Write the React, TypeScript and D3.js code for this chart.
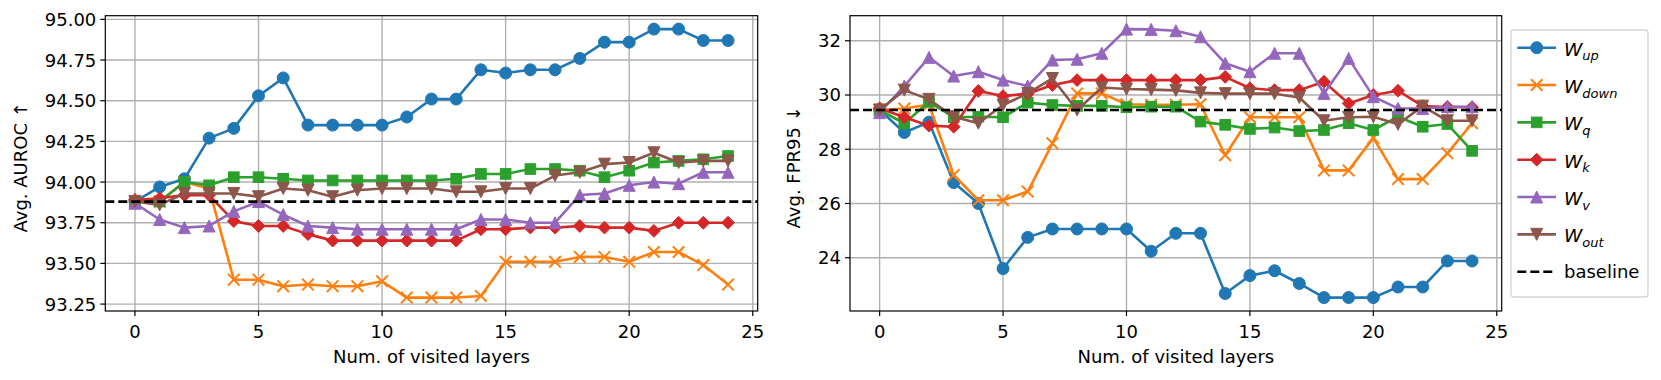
import React from "react";
import * as d3 from "d3";

const layers = [0,1,2,3,4,5,6,7,8,9,10,11,12,13,14,15,16,17,18,19,20,21,22,23,24];

const aurocUp = [93.88,93.97,94.02,94.27,94.33,94.53,94.64,94.35,94.35,94.35,94.35,94.40,94.51,94.51,94.69,94.67,94.69,94.69,94.76,94.86,94.86,94.94,94.94,94.87,94.87];
const aurocDown = [93.88,93.88,94.00,93.96,93.40,93.40,93.36,93.37,93.36,93.36,93.39,93.29,93.29,93.29,93.30,93.51,93.51,93.51,93.54,93.54,93.51,93.57,93.57,93.49,93.37];
const aurocQ = [93.88,93.88,94.00,93.98,94.03,94.03,94.02,94.01,94.01,94.01,94.01,94.01,94.01,94.02,94.05,94.05,94.08,94.08,94.07,94.03,94.07,94.12,94.13,94.14,94.16];
const aurocK = [93.89,93.90,93.92,93.92,93.76,93.73,93.73,93.68,93.64,93.64,93.64,93.64,93.64,93.64,93.71,93.71,93.72,93.72,93.73,93.72,93.72,93.70,93.75,93.75,93.75];
const aurocV = [93.87,93.77,93.72,93.73,93.82,93.88,93.80,93.73,93.72,93.71,93.71,93.71,93.71,93.71,93.77,93.77,93.75,93.75,93.92,93.93,93.98,94.00,93.99,94.06,94.06];
const aurocOut = [93.88,93.86,93.93,93.93,93.93,93.91,93.96,93.95,93.91,93.95,93.96,93.96,93.96,93.94,93.94,93.96,93.96,94.04,94.06,94.11,94.12,94.18,94.12,94.13,94.13];
const aurocBaseline = 93.88;

const fprUp = [29.45,28.62,29.0,26.77,26.0,23.6,24.75,25.06,25.06,25.06,25.06,24.24,24.9,24.9,22.68,23.34,23.52,23.05,22.53,22.53,22.53,22.92,22.92,23.88,23.88];
const fprDown = [29.45,29.5,29.65,27.05,26.12,26.12,26.44,28.22,30.06,30.06,29.66,29.64,29.64,29.66,27.78,29.18,29.18,29.18,27.22,27.22,28.42,26.9,26.9,27.85,28.96];
const fprQ = [29.45,28.95,29.75,29.18,29.2,29.18,29.72,29.63,29.6,29.6,29.55,29.57,29.57,29.02,28.9,28.75,28.8,28.67,28.71,28.96,28.71,29.2,28.83,28.93,27.94];
const fprK = [29.51,29.18,28.87,28.83,30.15,29.96,30.05,30.37,30.55,30.55,30.55,30.55,30.55,30.55,30.67,30.25,30.18,30.18,30.49,29.69,30.0,30.16,29.59,29.56,29.55];
const fprV = [29.35,30.33,31.39,30.7,30.86,30.55,30.33,31.29,31.32,31.54,32.43,32.42,32.37,32.15,31.17,30.86,31.54,31.54,30.06,31.35,29.94,29.51,29.5,29.57,29.57];
const fprOut = [29.45,30.18,29.84,29.2,28.96,29.63,30.06,30.61,29.45,30.28,30.22,30.2,30.17,30.08,30.05,30.05,30.05,29.91,29.05,29.18,29.2,28.92,29.59,29.05,29.05];
const fprBaseline = 29.45;

const seriesNames = ["up", "down", "q", "k", "v", "out"];
const seriesColors = ["#1f77b4", "#ff7f0e", "#2ca02c", "#d62728", "#9467bd", "#8c564b"];
const seriesMarkers = ["circle", "x", "square", "diamond", "triangleUp", "triangleDown"];

const xTicks = [0, 5, 10, 15, 20, 25];
const aurocTicks = [93.25, 93.5, 93.75, 94.0, 94.25, 94.5, 94.75, 95.0];
const fprTicks = [24, 26, 28, 30, 32];

const FONT = "DejaVu Sans";
const FS = 18;
const LW = 2.6;

function Marker({ type, x, y, color }: { type: string; x: number; y: number; color: string }) {
  const t = `translate(${x},${y})`;
  if (type === "circle") return <circle cx={x} cy={y} r={6.0} fill={color} stroke={color} strokeWidth={1} />;
  if (type === "square") return <rect x={x - 5.3} y={y - 5.3} width={10.6} height={10.6} fill={color} stroke={color} strokeWidth={1} />;
  if (type === "diamond") return <path transform={t} d="M0,-6.4L6.4,0L0,6.4L-6.4,0Z" fill={color} stroke={color} strokeWidth={1} />;
  if (type === "triangleUp") return <path transform={t} d="M0,-6.0L6.0,6.0L-6.0,6.0Z" fill={color} stroke={color} strokeWidth={1} />;
  if (type === "triangleDown") return <path transform={t} d="M0,6.0L6.0,-6.0L-6.0,-6.0Z" fill={color} stroke={color} strokeWidth={1} />;
  return <path transform={t} d="M-5.8,-5.8L5.8,5.8M-5.8,5.8L5.8,-5.8" fill="none" stroke={color} strokeWidth={2} />;
}

function Panel({ left, right, top, bottom, series, baseline, yTicks, yFmt, yLabel, yLabelX }: any) {
  const all = series.flat();
  const ymin = d3.min(all) as number;
  const ymax = d3.max(all) as number;
  const m = (ymax - ymin) * 0.05;
  const x = d3.scaleLinear().domain([-1.2, 25.2]).range([left, right]);
  const y = d3.scaleLinear().domain([ymin - m, ymax + m]).range([bottom, top]);
  const line = d3.line<number>().x((_, i) => x(layers[i])).y((d) => y(d));
  const cx = (left + right) / 2;
  const cy = (top + bottom) / 2;
  return (
    <g>
      {xTicks.map((t) => (
        <line key={"gx" + t} x1={x(t)} x2={x(t)} y1={top} y2={bottom} stroke="#b0b0b0" strokeWidth={1.4} />
      ))}
      {yTicks.map((t: number) => (
        <line key={"gy" + t} x1={left} x2={right} y1={y(t)} y2={y(t)} stroke="#b0b0b0" strokeWidth={1.4} />
      ))}
      {series.map((s: number[], si: number) => (
        <g key={"s" + si}>
          <path d={line(s) as string} fill="none" stroke={seriesColors[si]} strokeWidth={LW} strokeLinejoin="round" />
          {s.map((v, i) => (
            <Marker key={i} type={seriesMarkers[si]} x={x(layers[i])} y={y(v)} color={seriesColors[si]} />
          ))}
        </g>
      ))}
      <line x1={left} x2={right} y1={y(baseline)} y2={y(baseline)} stroke="#000" strokeWidth={LW} strokeDasharray="9,4" />
      <rect x={left} y={top} width={right - left} height={bottom - top} fill="none" stroke="#000" strokeWidth={1.2} />
      {xTicks.map((t) => (
        <g key={"xt" + t}>
          <line x1={x(t)} x2={x(t)} y1={bottom} y2={bottom + 5} stroke="#000" strokeWidth={1.2} />
          <text x={x(t)} y={bottom + 26.5} textAnchor="middle" fontFamily={FONT} fontSize={FS} fill="#000">{t}</text>
        </g>
      ))}
      {yTicks.map((t: number) => (
        <g key={"yt" + t}>
          <line x1={left - 5} x2={left} y1={y(t)} y2={y(t)} stroke="#000" strokeWidth={1.2} />
          <text x={left - 9} y={y(t)} dy="0.36em" textAnchor="end" fontFamily={FONT} fontSize={FS} fill="#000">{yFmt(t)}</text>
        </g>
      ))}
      <text x={cx} y={bottom + 52} textAnchor="middle" fontFamily={FONT} fontSize={FS} fill="#000">Num. of visited layers</text>
      <text transform={`translate(${yLabelX},${cy + 4}) rotate(-90)`} textAnchor="middle" fontFamily={FONT} fontSize={FS} fill="#000">{yLabel}</text>
    </g>
  );
}

function Legend() {
  const lx = 1511, ly = 30, lw = 137, lh = 267;
  const rowY = (i: number) => 47.7 + i * 37.33;
  return (
    <g>
      <rect x={lx} y={ly} width={lw} height={lh} rx={3} ry={3} fill="#fff" stroke="#d6d6d6" strokeWidth={1.4} />
      {seriesNames.map((n, i) => (
        <g key={n}>
          <line x1={1517.3} x2={1556} y1={rowY(i)} y2={rowY(i)} stroke={seriesColors[i]} strokeWidth={LW} />
          <Marker type={seriesMarkers[i]} x={1536.7} y={rowY(i)} color={seriesColors[i]} />
          <text x={1564} y={rowY(i) + 8} fontFamily={FONT} fontSize={18.5} fill="#000" fontStyle="italic">
            W
            <tspan fontSize={13} dy={4.5}>{n}</tspan>
          </text>
        </g>
      ))}
      <line x1={1517.3} x2={1556} y1={rowY(6)} y2={rowY(6)} stroke="#000" strokeWidth={LW} strokeDasharray="9,4" />
      <text x={1564} y={rowY(6) + 6.5} fontFamily={FONT} fontSize={FS} fill="#000">baseline</text>
    </g>
  );
}

export default function App() {
  return (
    <svg width={1661} height={380} style={{ position: "absolute", left: 0, top: 0, background: "#fff" }}>
      <rect x={0} y={0} width={1661} height={380} fill="#fff" />
      <Panel
        left={105.3}
        right={757.7}
        top={15.7}
        bottom={311}
        series={[aurocUp, aurocDown, aurocQ, aurocK, aurocV, aurocOut]}
        baseline={aurocBaseline}
        yTicks={aurocTicks}
        yFmt={(t: number) => t.toFixed(2)}
        yLabel="Avg. AUROC ↑"
        yLabelX={27}
      />
      <Panel
        left={850}
        right={1501.7}
        top={15.7}
        bottom={311}
        series={[fprUp, fprDown, fprQ, fprK, fprV, fprOut]}
        baseline={fprBaseline}
        yTicks={fprTicks}
        yFmt={(t: number) => String(t)}
        yLabel="Avg. FPR95 ↓"
        yLabelX={800}
      />
      <Legend />
    </svg>
  );
}
